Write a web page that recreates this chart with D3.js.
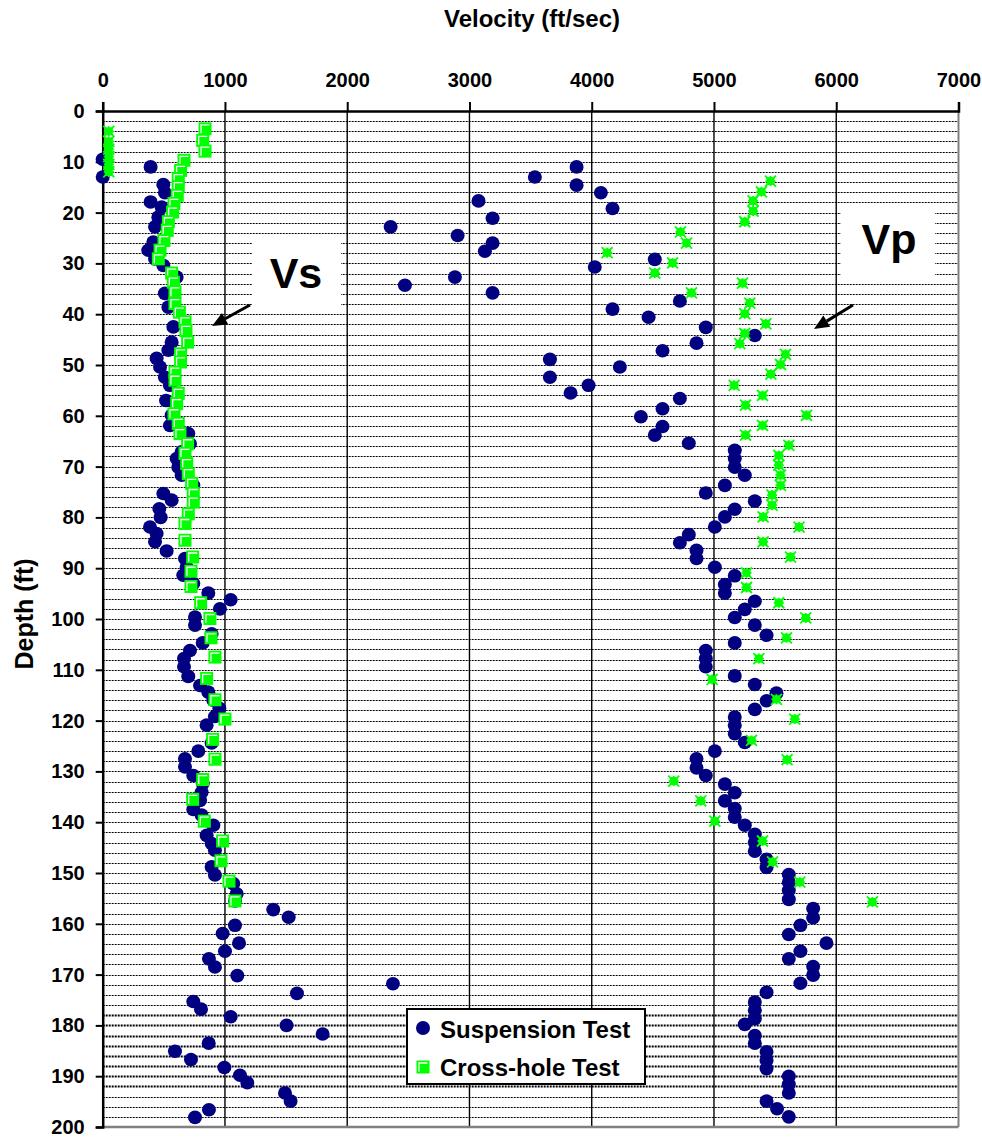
<!DOCTYPE html>
<html><head><meta charset="utf-8">
<script src="https://cdn.jsdelivr.net/npm/d3@7"></script>
<style>
body{margin:0;background:#fff}
text{font-family:"Liberation Sans",Arial,sans-serif;font-weight:bold;fill:#000}
</style>
</head><body>
<svg id="chart" width="982" height="1138"></svg>
<script>
// ---------- DATA ----------
const xTicks = [0,1000,2000,3000,4000,5000,6000,7000];
const yTicks = [0,10,20,30,40,50,60,70,80,90,100,110,120,130,140,150,160,170,180,190,200];
const seriesNames = ["Suspension Test","Cross-hole Test"];

// Suspension test, [depth ft, velocity ft/s] – shear-wave (left) branch
const suspensionVs = [[9.5,0],[11,392],[13,0],[14.5,496],[16.1,509],[17.9,392],[18.9,482],[20.9,455],[22.8,428],[25.8,414],[27.4,373],[29.1,428],[30.4,496],[32.7,605],[35.9,509],[38.6,537],[42.5,578],[45.5,564],[47.1,537],[48.7,441],[50.4,469],[52.4,509],[54.0,550],[57.0,518],[59.9,564],[61.9,550],[63.5,700],[65.5,714],[67.1,646],[68.4,605],[70.1,618],[71.7,646],[73.7,741],[75.3,496],[76.6,564],[78.3,463],[80.0,474],[81.9,387],[83.2,441],[84.8,428],[86.6,523],[88.1,673],[89.8,687],[91.4,659],[93.0,741],[94.9,864],[96.2,1047],[98.0,959],[99.6,755],[101.2,755],[102.9,891],[104.7,818],[106.2,714],[107.8,665],[109.4,665],[111.3,700],[113.1,796],[114.4,864],[116.0,905],[117.6,954],[119.2,918],[120.9,850],[124.4,891],[126.0,782],[127.5,673],[129.1,673],[130.8,741],[132.4,818],[134.1,809],[135.7,796],[137.5,741],[138.6,809],[140.6,905],[142.6,850],[144.2,891],[145.5,918],[148.8,891],[150.4,918],[152.1,1068],[154.1,1096],[155.5,1082],[157.2,1395],[158.7,1521],[160.3,1082],[161.9,981],[163.8,1115],[165.4,1000],[166.9,869],[168.5,918],[170.2,1101],[171.8,2374],[173.7,1589],[175.3,741],[176.8,804],[178.3,1047],[180.0,1504],[181.7,1799],[183.5,867],[185.1,591],[186.7,722],[188.3,995],[189.8,1123],[191.3,1183],[193.3,1491],[194.9,1537],[196.6,869],[198.1,755]];

// Suspension test – compression-wave (right) branch
const suspensionVp = [[22.8,2355],[34.3,2472],[24.5,2903],[32.7,2881],[17.7,3074],[21.1,3189],[26.0,3189],[27.6,3126],[35.8,3189],[13.0,3535],[11.0,3876],[14.6,3876],[16.1,4075],[19.2,4170],[30.7,4025],[39.0,4170],[50.4,4230],[48.9,3658],[52.4,3658],[55.5,3827],[54.0,3974],[29.2,4516],[37.4,4721],[40.6,4465],[42.6,4933],[45.7,4857],[44.2,5334],[47.2,4579],[56.6,4721],[58.6,4579],[60.2,4402],[62.1,4579],[63.8,4516],[65.4,4794],[66.8,5170],[68.4,5170],[70.1,5170],[71.7,5252],[73.7,5089],[75.2,4933],[76.8,5334],[78.4,5170],[79.9,5089],[81.9,5007],[83.4,4794],[85.0,4721],[86.5,4857],[88.1,4857],[89.8,5007],[91.5,5170],[93.2,5089],[94.9,5089],[96.5,5334],[98.1,5252],[99.7,5170],[101.2,5334],[103.2,5430],[104.7,5170],[106.2,4933],[107.8,4933],[109.4,4933],[111.2,5170],[112.9,5334],[114.6,5511],[116.1,5430],[117.8,5334],[119.3,5170],[120.9,5170],[122.6,5170],[124.3,5252],[126.0,5007],[127.5,4857],[129.3,4857],[130.8,4933],[132.5,5089],[134.2,5170],[135.8,5089],[137.3,5170],[139.0,5170],[140.6,5252],[142.4,5334],[144.0,5334],[145.7,5334],[147.3,5430],[148.9,5430],[150.3,5612],[151.8,5612],[153.4,5612],[155.2,5612],[157.0,5811],[158.8,5811],[160.3,5707],[162.1,5612],[163.8,5920],[165.4,5707],[166.9,5612],[168.4,5811],[170.1,5811],[171.7,5707],[173.5,5430],[175.4,5334],[177.0,5334],[178.7,5334],[179.8,5252],[182.0,5334],[183.5,5334],[185.2,5430],[186.9,5430],[188.5,5430],[190.0,5612],[191.6,5612],[193.3,5612],[194.9,5430],[196.4,5516],[198.0,5612]];

// Cross-hole test – shear wave (square markers)
const crossholeVs = [[3.5,837],[5.8,818],[7.9,837],[9.7,665],[11.7,637],[13.3,618],[14.9,618],[16.6,610],[18.2,583],[19.9,572],[21.8,537],[23.5,528],[25.5,501],[27.4,469],[29.1,455],[31.9,564],[33.7,578],[35.6,591],[37.9,591],[39.6,627],[41.5,673],[43.2,681],[45.5,695],[47.8,637],[49.4,637],[51.4,591],[53.0,591],[55.6,618],[57.6,605],[59.6,583],[61.5,618],[63.5,632],[65.5,695],[67.4,673],[69.4,687],[71.4,700],[73.3,728],[75.3,741],[77.0,741],[79.3,700],[81.2,673],[84.5,673],[87.8,736],[90.6,722],[93.6,722],[96.8,801],[99.9,877],[103.7,886],[107.5,918],[111.7,850],[115.9,918],[119.7,1000],[123.7,899],[127.6,918],[131.6,818],[135.5,736],[139.8,831],[143.7,981],[147.6,967],[151.6,1033],[155.5,1082]];

// Cross-hole test – compression wave (star markers)
const crossholeVp = [[4,50],[6,50],[7.5,50],[9,50],[10.5,50],[12,50],[13.8,5462],[15.9,5388],[17.7,5320],[19.7,5320],[21.8,5252],[23.8,4726],[26.0,4775],[27.9,4126],[29.9,4661],[31.9,4516],[33.9,5233],[35.8,4816],[37.8,5293],[39.9,5252],[41.9,5424],[43.8,5252],[45.8,5211],[47.9,5585],[49.9,5544],[51.8,5465],[54.0,5165],[56.0,5397],[57.9,5258],[59.9,5757],[61.9,5397],[63.8,5258],[65.8,5612],[67.8,5530],[69.7,5530],[71.7,5544],[73.7,5544],[75.6,5475],[77.6,5475],[79.9,5402],[81.9,5696],[84.8,5402],[87.8,5626],[90.9,5266],[93.8,5266],[96.8,5530],[99.8,5751],[103.7,5593],[107.8,5367],[111.9,4985],[115.8,5511],[119.7,5661],[123.9,5307],[127.7,5598],[131.9,4671],[135.8,4892],[139.8,5007],[143.7,5397],[147.8,5479],[151.8,5702],[155.7,6296]];

// ---------- CHART ----------
const svg = d3.select("#chart");
const x = d3.scaleLinear().domain([0,7000]).range([102.7,958.5]);
const y = d3.scaleLinear().domain([0,200]).range([111,1127]);
const navy = "#000080", green = "#00FF00";

// horizontal dashed gridlines every 2 ft
const gridDepths = d3.range(2,200,2);
svg.append("g").selectAll("line").data(gridDepths).join("line")
  .attr("x1",x(0)).attr("x2",x(7000))
  .attr("y1",d=>Math.round(y(d))+0.5).attr("y2",d=>Math.round(y(d))+0.5)
  .attr("stroke","#000")
  .attr("stroke-width",d=>(d>=178&&d<=192)?1.8:1)
  .attr("stroke-dasharray","2,1");

// vertical major gridlines
svg.append("g").selectAll("line").data(xTicks.filter(v=>v>0&&v<7000)).join("line")
  .attr("x1",d=>x(d)).attr("x2",d=>x(d)).attr("y1",y(0)).attr("y2",y(200))
  .attr("stroke","#000").attr("stroke-width",1.4);

// plot border right/bottom (grey)
svg.append("line").attr("x1",x(7000)).attr("x2",x(7000)).attr("y1",y(0)).attr("y2",y(200))
  .attr("stroke","#808080").attr("stroke-width",2);
svg.append("line").attr("x1",x(0)).attr("x2",x(7000)).attr("y1",y(200)).attr("y2",y(200))
  .attr("stroke","#808080").attr("stroke-width",2.5);

// text boxes
function labelBox(x0,y0,w,h,txt,cx,by){
  svg.append("rect").attr("x",x0).attr("y",y0).attr("width",w).attr("height",h).attr("fill","#fff");
  svg.append("text").attr("x",cx).attr("y",by).attr("text-anchor","middle")
    .style("font-size","43px").text(txt);
}
labelBox(252,238,89,68,"Vs",296,288);
labelBox(841,208,94,70,"Vp",889,254);

// axes
const xAxis = d3.axisTop(x).tickValues(xTicks).tickFormat(d3.format("d")).tickSize(9).tickPadding(15);
const gx = svg.append("g").attr("transform",`translate(0,${y(0)})`).call(xAxis);
gx.select(".domain").attr("stroke","#000").attr("stroke-width",2.5);
gx.selectAll(".tick line").attr("stroke","#000").attr("stroke-width",2);
gx.selectAll("text").style("font-size","20px").style("font-family",'"Liberation Sans",Arial,sans-serif').style("font-weight","bold").attr("fill","#000");

const yAxis = d3.axisLeft(y).tickValues(yTicks).tickSize(7).tickPadding(11);
const gy = svg.append("g").attr("transform",`translate(${x(0)},0)`).call(yAxis);
gy.select(".domain").attr("stroke","#000").attr("stroke-width",2.5);
gy.selectAll(".tick line").attr("stroke","#000").attr("stroke-width",2);
gy.selectAll("text").style("font-size","20px").style("font-family",'"Liberation Sans",Arial,sans-serif').style("font-weight","bold").attr("fill","#000");

// titles
svg.append("text").attr("x",532).attr("y",27).attr("text-anchor","middle").style("font-size","24px").text("Velocity (ft/sec)");
svg.append("text").attr("transform","translate(33,614) rotate(-90)").attr("text-anchor","middle").style("font-size","25px").text("Depth (ft)");

// markers: suspension circles
const allSusp = suspensionVs.concat(suspensionVp);
svg.append("g").selectAll("ellipse").data(allSusp).join("ellipse")
  .attr("cx",d=>x(d[1])).attr("cy",d=>y(d[0])).attr("rx",7).attr("ry",6.8).attr("fill",navy);

// cross-hole stars
function star(g,cx,cy){
  g.append("rect").attr("x",cx-4).attr("y",cy-4).attr("width",8).attr("height",8).attr("fill",green);
  g.append("path").attr("d",`M${cx-5.5},${cy-5.5}L${cx+5.5},${cy+5.5}M${cx+5.5},${cy-5.5}L${cx-5.5},${cy+5.5}M${cx},${cy-5}V${cy+5}M${cx-5},${cy}H${cx+5}`)
    .attr("stroke",green).attr("stroke-width",1.8);
}
const gs = svg.append("g");
crossholeVp.forEach(d=>star(gs,x(d[1]),y(d[0])));

// cross-hole squares
function sq(g,cx,cy,s){
  g.append("rect").attr("x",cx-s/2).attr("y",cy-s/2).attr("width",s).attr("height",s).attr("fill",green);
  g.append("path").attr("d",`M${cx-s/2+2.5},${cy+s/2-2}V${cy-s/2+2.5}H${cx+s/2-2}`)
    .attr("fill","none").attr("stroke","#fff").attr("stroke-width",1.3);
}
const gq = svg.append("g");
crossholeVs.forEach(d=>sq(gq,x(d[1]),y(d[0]),13));

// arrows
function arrow(x1,y1,x2,y2){
  const a = Math.atan2(y2-y1,x2-x1), L=15, W=6.5;
  const bx = x2 - L*Math.cos(a), by = y2 - L*Math.sin(a);
  svg.append("line").attr("x1",x1).attr("y1",y1).attr("x2",bx).attr("y2",by).attr("stroke","#000").attr("stroke-width",3);
  const px=-Math.sin(a)*W, py=Math.cos(a)*W;
  svg.append("path").attr("d",`M${x2},${y2}L${bx+px},${by+py}L${bx-px},${by-py}Z`).attr("fill","#000");
}
arrow(250,305,212,326);
arrow(853,305,814,329);

// legend
const lg = svg.append("g");
lg.append("rect").attr("x",407).attr("y",1009).attr("width",238).attr("height",75).attr("fill","#fff").attr("stroke","#000").attr("stroke-width",2);
lg.append("circle").attr("cx",423).attr("cy",1028).attr("r",7).attr("fill",navy);
sq(lg,423,1067,13);
lg.append("text").attr("x",440).attr("y",1038).style("font-size","24px").text(seriesNames[0]);
lg.append("text").attr("x",440).attr("y",1076).style("font-size","24px").text(seriesNames[1]);
</script>
</body></html>
